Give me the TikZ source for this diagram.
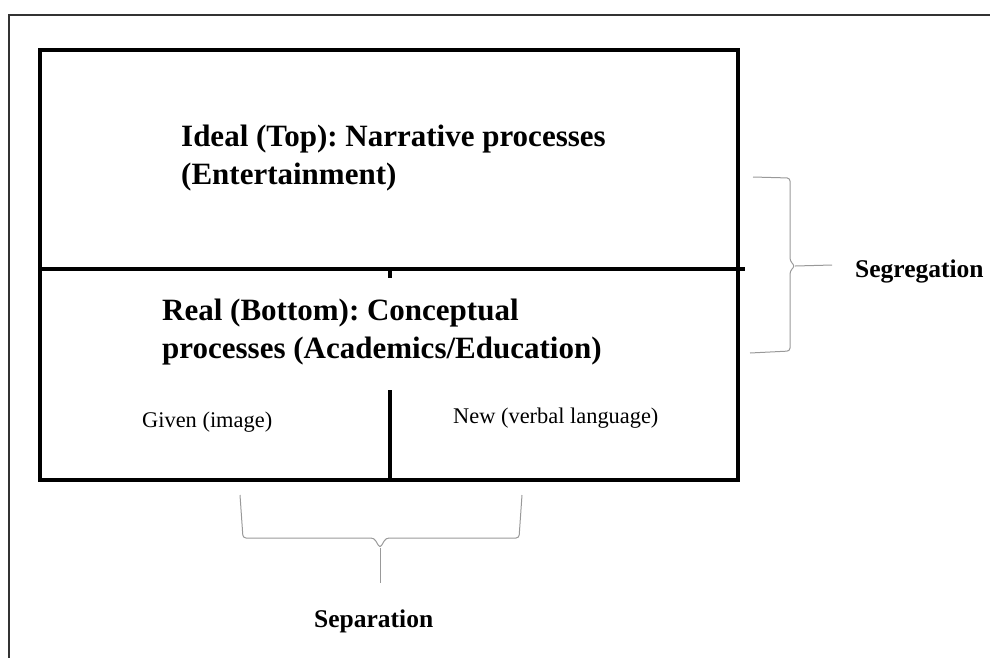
\documentclass[tikz,border=0pt]{standalone}
\usepackage{fontspec}
\setmainfont{Liberation Serif}
\usepackage{tikz}
\frenchspacing

\begin{document}
\begin{tikzpicture}[x=1pt, y=-1pt,
  every node/.style={inner sep=0pt, anchor=base west},
  heading/.style={anchor=north west, align=left, font=\fontsize{31}{37.5}\selectfont\bfseries},
  note/.style={font=\fontsize{22.4}{26}\selectfont},
  tag/.style={font=\fontsize{25.5}{30}\selectfont\bfseries},
  bar/.style={line width=3.5pt},
  bracket/.style={draw=black!40, line width=1pt, rounded corners=3pt}]
  \useasboundingbox (0,0) rectangle (990,657);
  \draw [line width=1.2pt, black!80] (9,665) -- (9,15) -- (1000,15);
  \draw [bar] (40,50) rectangle (738,480);
  \draw [bar] (40,269) -- (745,269);
  \draw [bar] (390,269) -- (390,278);
  \draw [bar] (390,390) -- (390,480);
  \node [heading] (ideal) at (181,125) {Ideal (Top): Narrative processes\\(Entertainment)};
  \node [heading] (real) at (162,299) {Real (Bottom): Conceptual\\processes (Academics/Education)};
  \node [note] (given) at (142,427) {Given (image)};
  \node [note] (new) at (453,423) {New (verbal language)};
  \node [tag] (seg) at (855,277) {Segregation};
  \node [tag] (sep) at (314,627) {Separation};
  \coordinate (segtip) at (795,266);
  \coordinate (septip) at (380,548);
  \draw [bracket] (753,177) -- (790,178) -- (790,261) -- (segtip) -- (790,271) -- (790,351) -- (750,353);
  \draw [bracket] (segtip) -- (832,265);
  \draw [bracket] (240,495) -- (243,538) -- (374,538) -- (septip) -- (386,538) -- (519,538) -- (522,495);
  \draw [bracket] (septip) -- (380,583);
\end{tikzpicture}
\end{document}
